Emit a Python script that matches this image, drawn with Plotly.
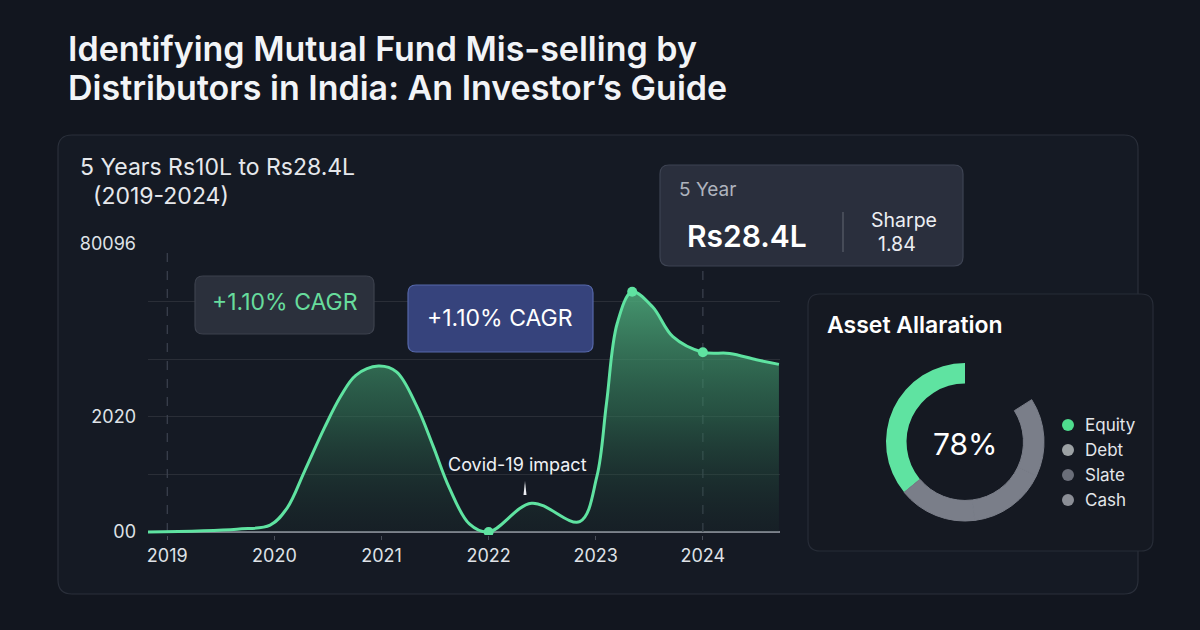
import plotly.graph_objects as go

# portfolio curve (x in years, y in gridline units)
growth_years = [2018.82, 2019.65, 2019.96, 2020.12, 2020.28, 2020.47, 2020.62, 2020.76,
                2020.97, 2021.14, 2021.33, 2021.48, 2021.63, 2021.82, 2022.00, 2022.40,
                2022.85, 2023.01, 2023.10, 2023.20, 2023.34, 2023.53, 2023.72, 2024.00,
                2024.25, 2024.50, 2024.71]
growth_values = [0.00, 0.05, 0.12, 0.42, 1.05, 1.82, 2.36, 2.72,
                 2.88, 2.78, 2.18, 1.50, 0.78, 0.14, 0.00, 0.50,
                 0.18, 0.96, 2.23, 3.62, 4.17, 3.91, 3.39, 3.12,
                 3.10, 2.99, 2.91]
highlight_idx = [14, 20, 23]

year_ticks = [2019, 2020, 2021, 2022, 2023, 2024]
y_tickvals = [0, 1, 2, 3, 4, 5]
y_ticktext = ["00", "", "2020", "", "", "80096"]

alloc_labels = ["Equity", "Debt", "Slate", "Cash"]
alloc_values = [36, 16, 16, 16]
alloc_gap = 16
legend_colors = ["#4fdc8e", "#9ca1a4", "#6a6e79", "#8b8e96"]

BG = "#12161f"
GREEN = "#5fe3a1"
RING_GRAY = "#7a7e89"
FONT = "Inter"


def X(px):
    return px / 1200


def Y(py):
    return 1 - py / 630


def rounded_rect(x0, y0, x1, y1, r):
    L, R, T, B = X(x0), X(x1), Y(y0), Y(y1)
    rx, ry = r / 1200, r / 630
    return (f"M {L + rx},{T} L {R - rx},{T} Q {R},{T} {R},{T - ry} "
            f"L {R},{B + ry} Q {R},{B} {R - rx},{B} L {L + rx},{B} "
            f"Q {L},{B} {L},{B + ry} L {L},{T - ry} Q {L},{T} {L + rx},{T} Z")


def box(x0, y0, x1, y1, fill, line, r=10, layer="above"):
    return dict(type="path", xref="paper", yref="paper", layer=layer,
                path=rounded_rect(x0, y0, x1, y1, r),
                fillcolor=fill, line=dict(color=line, width=1.2))


fig = go.Figure()

fig.add_trace(go.Scatter(
    x=growth_years, y=growth_values, mode="lines",
    line=dict(color=GREEN, width=3, shape="spline", smoothing=1.0),
    fill="tozeroy",
    fillgradient=dict(type="vertical", colorscale=[
        [0, "rgba(30,60,50,0.15)"], [0.5, "rgba(52,125,90,0.55)"], [1, "rgba(78,172,124,0.85)"]]),
    hoverinfo="skip", showlegend=False,
))
fig.add_trace(go.Scatter(
    x=[growth_years[i] for i in highlight_idx],
    y=[growth_values[i] for i in highlight_idx],
    mode="markers", marker=dict(color=GREEN, size=10),
    hoverinfo="skip", showlegend=False,
))

# donut: plotly puts the first ccw slice just right of 12 o'clock, so the gap goes first
fig.add_trace(go.Pie(
    labels=["gap"] + alloc_labels,
    values=[alloc_gap] + alloc_values,
    marker=dict(colors=["rgba(0,0,0,0)", GREEN, RING_GRAY, RING_GRAY, RING_GRAY],
                line=dict(color=["rgba(0,0,0,0)", GREEN, RING_GRAY, RING_GRAY, RING_GRAY],
                          width=[0, 0, 1, 1, 1])),
    hole=0.74, sort=False, direction="counterclockwise", rotation=0,
    textinfo="none", hoverinfo="skip", showlegend=False,
    domain=dict(x=[X(965 - 80), X(965 + 80)], y=[Y(442 + 79), Y(442 - 79)]),
))

shapes = [
    box(58, 135, 1138, 594, "#151a24", "#2a2f3a", r=14, layer="below"),
    box(195, 276, 374, 334, "#2b303c", "#3c414d", r=8),
    box(408, 285, 593, 352, "#36437c", "#5668aa", r=8),
    box(660, 165, 963, 266, "#2a2f3d", "#3d4352", r=9),
    box(808, 294, 1153, 551, "#151922", "#272c37", r=12, layer="below"),
    dict(type="line", xref="paper", yref="paper", x0=X(843), x1=X(843), y0=Y(212), y1=Y(252),
         line=dict(color="#5a5f6b", width=1.2), layer="above"),
    # small caret under the Covid label
    dict(type="path", xref="paper", yref="paper", layer="above",
         path=f"M {X(523.5)},{Y(495)} L {X(525)},{Y(481)} L {X(526.5)},{Y(495)} Z",
         fillcolor="#eceef2", line=dict(width=0)),
]
for yr in (year_ticks[0], year_ticks[-1]):
    shapes.append(dict(type="line", xref="x", yref="y", x0=yr, x1=yr, y0=0, y1=y_tickvals[-1],
                       line=dict(color="#3d4250", width=1.2, dash="dash"), layer="between"))

# legend dots for the donut
for i, (lab, col) in enumerate(zip(alloc_labels, legend_colors)):
    cy = 425 + i * 25
    shapes.append(dict(type="circle", xref="paper", yref="paper",
                       x0=X(1062), x1=X(1074), y0=Y(cy + 6), y1=Y(cy - 6),
                       fillcolor=col, line=dict(width=0), layer="above"))

annotations = [
    dict(text="Identifying Mutual Fund Mis-selling by", x=X(66), y=Y(49), xanchor="left",
         font=dict(size=34, color="#f2f4f7", family=FONT, weight=600)),
    dict(text="Distributors in India: An Investor’s Guide", x=X(66), y=Y(88), xanchor="left",
         font=dict(size=34, color="#f2f4f7", family=FONT, weight=600)),
    dict(text="5 Years Rs10L to Rs28.4L", x=X(78), y=Y(167), xanchor="left",
         font=dict(size=23, color="#e6e8ec", family=FONT)),
    dict(text="(2019-2024)", x=X(91), y=Y(196), xanchor="left",
         font=dict(size=23, color="#e6e8ec", family=FONT)),
    dict(text="+1.10% CAGR", x=X(285), y=Y(302), font=dict(size=23, color="#67dc9c", family=FONT)),
    dict(text="+1.10% CAGR", x=X(500), y=Y(318), font=dict(size=23, color="#ffffff", family=FONT)),
    dict(text="Covid-19 impact", x=X(517), y=Y(464), font=dict(size=18, color="#f0f2f5", family=FONT)),
    dict(text="5 Year", x=X(677), y=Y(189), xanchor="left",
         font=dict(size=19, color="#aeb3bd", family=FONT)),
    dict(text="Rs28.4L", x=X(685), y=Y(236), xanchor="left",
         font=dict(size=30, color="#ffffff", family=FONT, weight=600)),
    dict(text="Sharpe", x=X(904), y=Y(220), font=dict(size=19.5, color="#eceef2", family=FONT)),
    dict(text="1.84", x=X(897), y=Y(244), font=dict(size=19.5, color="#eceef2", family=FONT)),
    dict(text="Asset Allaration", x=X(825), y=Y(325), xanchor="left",
         font=dict(size=23, color="#ffffff", family=FONT, weight=600)),
    dict(text="78%", x=X(965), y=Y(444), font=dict(size=30, color="#ffffff", family=FONT)),
]
for i, lab in enumerate(alloc_labels):
    annotations.append(dict(text=lab, x=X(1083), y=Y(425 + i * 25), xanchor="left",
                            font=dict(size=17, color="#e3e6ea", family=FONT)))
for a in annotations:
    a.setdefault("xref", "paper")
    a.setdefault("yref", "paper")
    a.setdefault("xanchor", "center")
    a.setdefault("yanchor", "middle")
    a.setdefault("showarrow", False)

fig.update_layout(
    width=1200, height=630,
    margin=dict(l=0, r=0, t=0, b=0, pad=0, autoexpand=False),
    paper_bgcolor=BG, plot_bgcolor="rgba(0,0,0,0)",
    font=dict(family=FONT, color="#d6d9df"),
    shapes=shapes, annotations=annotations,
    xaxis=dict(domain=[X(148), X(780)], range=[2018.82, 2024.72], automargin=False,
               tickvals=year_ticks, showgrid=False, zeroline=False,
               ticks="outside", ticklen=4, tickcolor="#4a4f5a",
               showline=False, tickfont=dict(size=18, color="#dfe2e7")),
    yaxis=dict(domain=[Y(534.9), Y(244)], range=[-0.05, 5], automargin=False,
               tickvals=y_tickvals, ticktext=y_ticktext,
               gridcolor="rgba(255,255,255,0.09)", gridwidth=1,
               zeroline=True, zerolinecolor="#7d828c", zerolinewidth=1.6,
               ticklabelstandoff=11, tickfont=dict(size=18, color="#dfe2e7")),
)

fig.write_html("out.html", config={"displayModeBar": False},
               post_script="document.body.style.margin='0';")
